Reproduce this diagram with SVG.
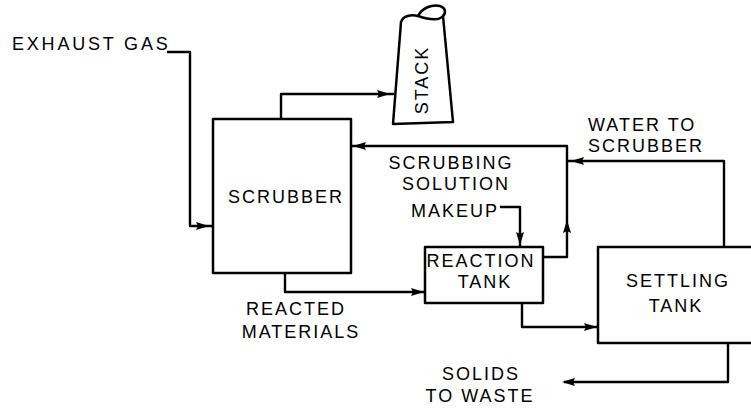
<svg xmlns="http://www.w3.org/2000/svg" width="751" height="408" viewBox="0 0 751 408">
<style>
.box{fill:none;stroke:#000;stroke-width:2.5;stroke-linejoin:round}
.ln{fill:none;stroke:#000;stroke-width:2.4;stroke-linejoin:round}
.t{font-family:"Liberation Sans",Arial,sans-serif;font-size:18px;letter-spacing:2px;fill:#000}
.m{text-anchor:middle}
.ah{fill:#000}
</style>
<defs>
<path id="ah" d="M0,0 L-13,-4 L-11,0 L-13,4 Z"/>
</defs>
<rect width="751" height="408" fill="#fff"/>
<g id="connectors">
<path class="ln" d="M167,52 H190 V226 H213"/>
<use href="#ah" class="ah" transform="translate(209,226)"/>
<path class="ln" d="M281,119 V94 H394"/>
<use href="#ah" class="ah" transform="translate(390,94)"/>
<path class="ln" d="M543,257 H567 V146 H351"/>
<use href="#ah" class="ah" transform="translate(353,146) rotate(180)"/>
<use href="#ah" class="ah" transform="translate(567,220) rotate(-90)"/>
<path class="ln" d="M724,247 V161 H567"/>
<use href="#ah" class="ah" transform="translate(571,161) rotate(180)"/>
<path class="ln" d="M500,207 H520 V247"/>
<use href="#ah" class="ah" transform="translate(520,245) rotate(90)"/>
<path class="ln" d="M285,273 V292 H425"/>
<use href="#ah" class="ah" transform="translate(424,292)"/>
<path class="ln" d="M522,303 V327 H598"/>
<use href="#ah" class="ah" transform="translate(597,327)"/>
<path class="ln" d="M728,343 V382 H564"/>
<use href="#ah" class="ah" transform="translate(562,382) rotate(180)"/>
</g>
<g id="exhaust-gas"><text class="t" x="12" y="50" style="letter-spacing:2.8px">EXHAUST GAS</text></g>
<g id="stack">
<path class="box" d="M393,124 L401,22 C403,16 411,14 418,16 C424,18 438,22 443,16 L453,122 Z"/>
<path class="box" d="M418,16 C422,8 432,4 440,6 C446,8 446,13 443,16"/>
<text class="t m" transform="translate(428,80) rotate(-90)">STACK</text>
</g>
<g id="scrubber">
<rect class="box" x="213" y="119" width="138" height="154"/>
<text class="t m" x="286" y="203">SCRUBBER</text>
</g>
<g id="scrubbing-solution">
<text class="t m" x="451" y="169">SCRUBBING</text>
<text class="t m" x="456" y="190">SOLUTION</text>
</g>
<g id="makeup"><text class="t m" x="455" y="217">MAKEUP</text></g>
<g id="water-to-scrubber">
<text class="t" x="588" y="131">WATER TO</text>
<text class="t" x="588" y="152">SCRUBBER</text>
</g>
<g id="reaction-tank">
<rect class="box" x="425" y="247" width="118" height="56"/>
<text class="t m" x="481" y="267">REACTION</text>
<text class="t m" x="485" y="288">TANK</text>
</g>
<g id="reacted-materials">
<text class="t m" x="296" y="315">REACTED</text>
<text class="t m" x="301" y="338">MATERIALS</text>
</g>
<g id="settling-tank">
<rect class="box" x="598" y="247" width="170" height="96"/>
<text class="t m" x="678" y="287">SETTLING</text>
<text class="t m" x="676" y="312">TANK</text>
</g>
<g id="solids-to-waste">
<text class="t m" x="481" y="380">SOLIDS</text>
<text class="t m" x="480" y="402">TO WASTE</text>
</g>
</svg>
